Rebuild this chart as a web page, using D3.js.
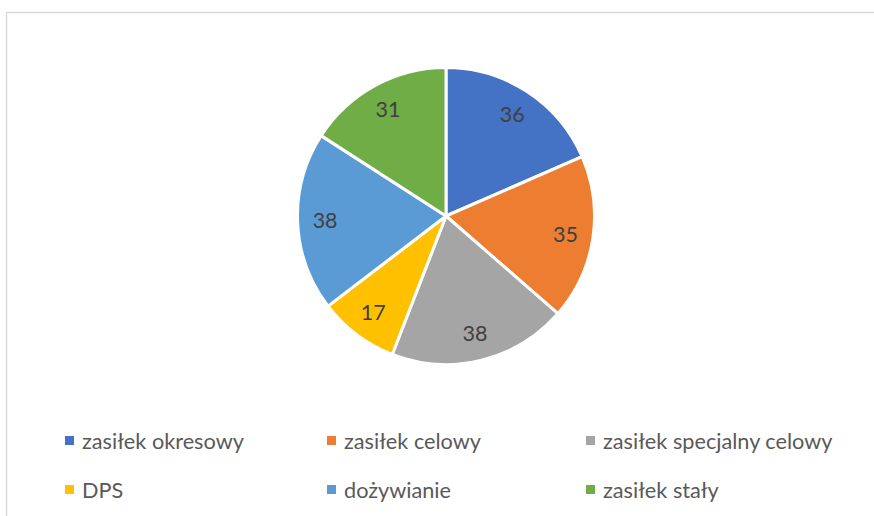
<!DOCTYPE html>
<html><head><meta charset="utf-8">
<script src="https://cdn.jsdelivr.net/npm/d3@7"></script>
<style>body{margin:0;background:#fff;}svg{display:block;}</style>
</head><body>
<svg id="chart" width="874" height="516"></svg>
<script>
const categories = ["zasiłek okresowy","zasiłek celowy","zasiłek specjalny celowy","DPS","dożywianie","zasiłek stały"];
const values = [36,35,38,17,38,31];
const colors = ["#4472C4","#ED7D31","#A5A5A5","#FFC000","#5B9BD5","#70AD47"];

const svg = d3.select("#chart");
const W = 874, H = 516;
svg.append("rect").attr("x",6.5).attr("y",12.5).attr("width",W).attr("height",H)
  .attr("fill","#fff").attr("stroke","#d9d9d9").attr("stroke-width",1.5);

const cx = 446, cy = 216, R = 148.5;
const pie = d3.pie().sort(null).value(d=>d)(values);
const arc = d3.arc().innerRadius(0).outerRadius(R);
const labelArc = d3.arc().innerRadius(121).outerRadius(121);
const g = svg.append("g").attr("transform",`translate(${cx},${cy})`);
g.selectAll("path").data(pie).join("path")
  .attr("d",arc).attr("fill",(d,i)=>colors[i])
  .attr("stroke","#fff").attr("stroke-width",3).attr("stroke-linejoin","round");
g.selectAll("text").data(pie).join("text")
  .attr("transform",d=>`translate(${labelArc.centroid(d)})`)
  .attr("text-anchor","middle").attr("dy","0.35em")
  .attr("font-family","Lato, sans-serif").attr("font-size",21.5)
  .attr("fill","#404040").text(d=>d.data);

const colX = [65,327,586], rowY = [441,490];
const lg = svg.append("g");
categories.forEach((c,i)=>{
  const x = colX[i%3], y = rowY[Math.floor(i/3)];
  lg.append("rect").attr("x",x).attr("y",y-5).attr("width",9).attr("height",9).attr("fill",colors[i]);
  lg.append("text").attr("x",x+17).attr("y",y).attr("dy","0.35em")
    .attr("font-family","Lato, sans-serif").attr("font-size",21.7).attr("fill","#595959").text(c);
});
</script>
</body></html>
